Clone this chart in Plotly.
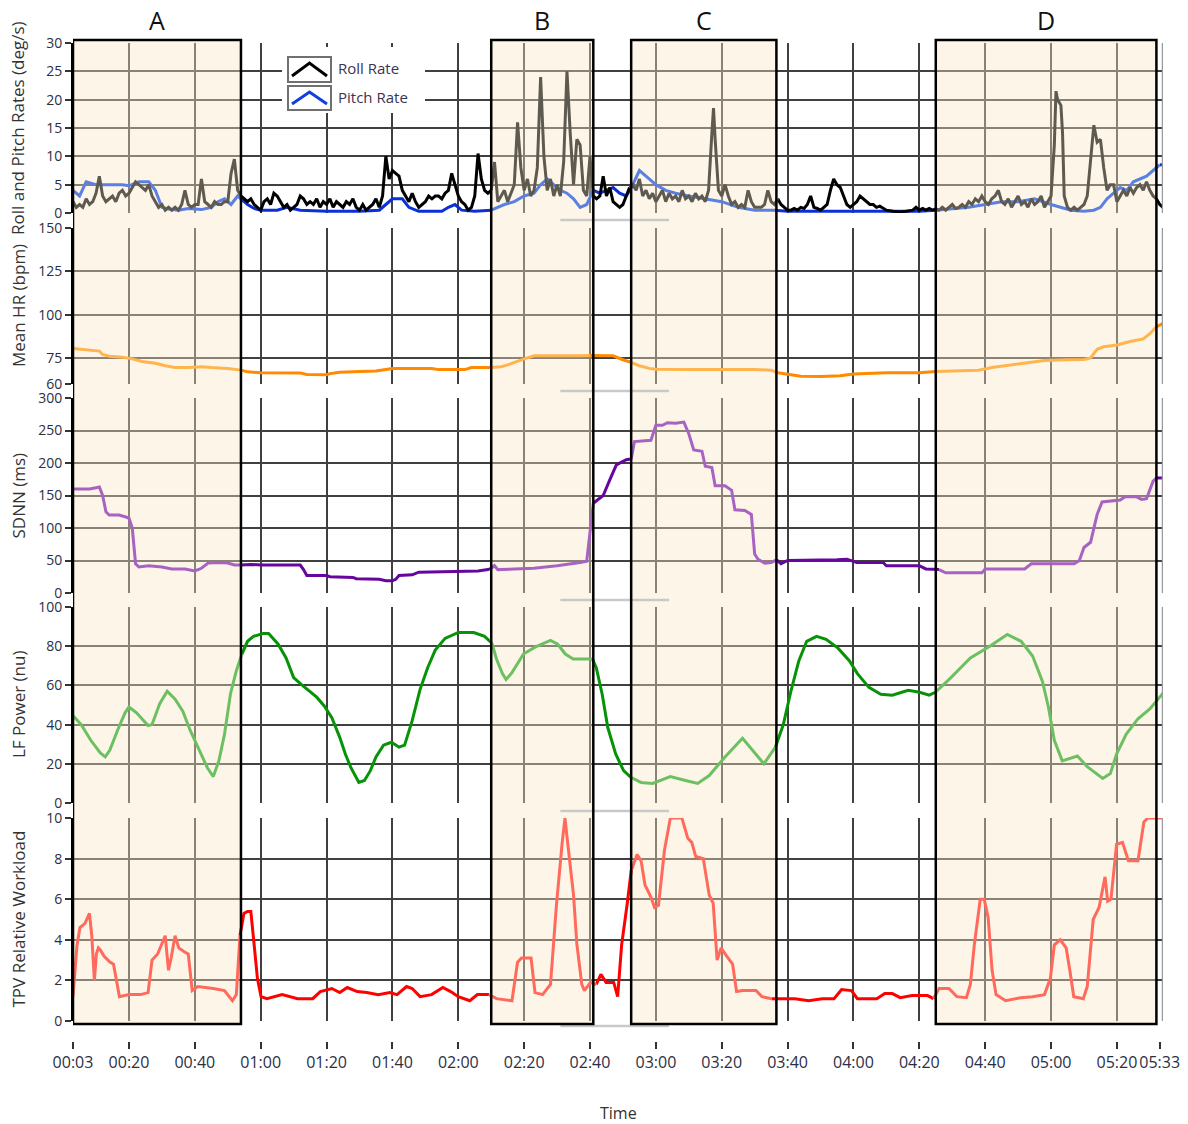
import plotly.graph_objects as go

W, H = 1188, 1124
ML, MR = 73, 25
X0, X1 = 3, 334

# ---------------- data ----------------
BOXES = [(3, 54), (130, 161), (172.5, 216.6), (265, 332)]
BOX_LABELS = ["A", "B", "C", "D"]

X_TICKVALS = [3, 20, 40, 60, 80, 100, 120, 140, 160, 180, 200, 220, 240, 260, 280, 300, 320, 333]
X_TICKTEXT = ["00:03", "00:20", "00:40", "01:00", "01:20", "01:40", "02:00", "02:20", "02:40",
              "03:00", "03:20", "03:40", "04:00", "04:20", "04:40", "05:00", "05:20", "05:33"]

ROLL_T = [3, 4, 5, 6, 7, 8, 9, 10, 11, 12, 13, 14, 15, 16, 17, 18, 19, 20, 21, 22, 23, 24, 25, 26, 27, 28,
          29, 30, 31, 32, 33, 34, 35, 36, 37, 38, 39, 40, 41, 42, 43, 44, 45, 46, 47, 48, 49, 50, 51, 52, 53, 54,
          55, 56, 57, 58, 59, 60, 61, 62, 63, 64, 65, 66, 67, 68, 69, 70, 71, 72, 73, 74, 75, 76, 77, 78, 79, 80,
          81, 82, 83, 84, 85, 86, 87, 88, 89, 90, 91, 92, 93, 94, 95, 96, 97, 98, 99, 100, 101, 102, 103, 104,
          105, 106, 107, 108, 109, 110, 111, 112, 113, 114, 115, 116, 117, 118, 119, 120, 121, 122, 123, 124,
          125, 126, 127, 128, 129, 130,
          131, 132, 133, 134, 135, 136, 137, 138, 139, 140, 141, 142, 143, 144, 145, 146, 147, 148, 149, 150,
          151, 152, 153, 154, 155, 156, 157, 158, 159, 160, 161,
          162, 163, 164, 165, 166, 167, 168, 169, 170, 171, 172, 173,
          174, 175, 176, 177, 178, 179, 180, 181, 182, 183, 184, 185, 186, 187, 188, 189, 190, 191, 192, 193,
          194, 195, 196, 197, 197.5, 198, 199, 200, 201, 202, 203, 204, 205, 206, 207, 208, 209, 210, 211, 212,
          213, 214, 215, 216, 217,
          218, 219, 220, 221, 222, 223, 224, 225, 226, 227, 228, 229, 230, 231, 232, 233, 234, 235, 236, 237,
          238, 239, 240, 241, 242, 243, 244, 245, 246, 247, 248, 249, 250, 252, 254, 256, 258, 259, 260, 261,
          262, 263, 264, 265,
          266, 267, 268, 269, 270, 271, 272, 273, 274, 275, 276, 277, 278, 279, 280, 281, 282, 283, 284, 285,
          286, 287, 288, 289, 290, 291, 292, 293, 294, 295, 296, 297, 298, 299, 300, 301, 301.5, 302, 303,
          303.5, 304, 305, 306, 307, 308, 309, 310, 311, 312, 313, 314, 315, 316, 317, 318, 319, 320, 321, 322,
          323, 324, 325, 326, 327, 328, 329, 330, 331, 332, 333, 334]
ROLL_V = [2, 1, 1.5, 1, 2.5, 1.5, 2, 3.5, 6.5, 3, 2, 2.5, 3, 2, 3.5, 4, 3, 3.5, 4.5, 5.5, 5, 4.5, 4, 5, 3, 2,
          1, 1.5, 0.5, 1, 0.5, 1, 0.5, 1.5, 4, 1.5, 1, 1.5, 1.5, 6, 2, 1.5, 1, 2, 1.5, 1.5, 2, 2, 7, 9.5, 4, 3,
          2.5, 2, 2.5, 1.5, 1, 0.5, 2, 2.5, 1.5, 3.5, 3, 2, 1, 1.5, 0.5, 1, 1.5, 3, 2.5, 1.5, 2, 1.5, 2.5, 1, 2, 1.5,
          2.5, 1, 2, 1.5, 1, 2, 1.5, 2.5, 1, 0.5, 1.5, 0.5, 1, 1.5, 2.5, 1, 3, 10, 6, 7.5, 7, 6.5, 4, 3,
          2, 3.5, 2, 1, 1.5, 2, 3, 2.5, 3, 3, 2.5, 3.5, 4, 7, 5, 3, 2, 1.5, 0.5, 1,
          3, 10.5, 6, 4, 3.5, 4,
          9, 2, 3, 4, 2, 3.5, 5, 16, 8, 4, 6, 3, 4, 8, 24, 10, 4, 6, 3, 5,
          3, 9, 25, 14, 5, 13, 12, 4, 3, 10, 3,
          2.5, 3, 6.5, 3, 4.5, 2, 1.5, 1, 1.5, 3, 4.5, 5,
          4, 6, 3, 4, 2.5, 3.5, 2, 3, 4, 2, 3.5, 2.5, 3, 2, 4, 2.5, 3, 2, 3.5, 2.5,
          3, 2, 4, 14, 18.5, 13, 4, 3, 5, 3, 1.5, 2, 1, 1.5, 1, 4, 2, 1, 1, 1,
          1.5, 4, 2, 1.5, 2.5,
          1.5, 1, 0.5, 0.5, 0.8, 0.5, 1, 0.8, 1.5, 3, 1, 0.8, 0.5, 1, 1.5, 4, 6, 5, 4.5, 3,
          1.5, 1, 1.5, 2, 3, 2.5, 2, 1.5, 1.5, 1, 1.2, 0.8, 0.5, 0.3, 0.2, 0.3, 0.5, 1, 0.5, 0.8,
          0.5, 0.8, 0.5, 0.7,
          0.5, 1, 0.5, 1, 1.5, 0.8, 1, 1.5, 1, 2, 1.5, 2.5, 2, 3, 2, 1.5, 2.5, 3, 4, 2,
          1.5, 2.5, 1, 2, 3, 1.5, 2, 1, 2.5, 1.5, 2, 3, 1, 2, 3, 12, 21.5, 20, 19,
          14, 3, 1, 0.5, 1, 0.5, 1, 1.5, 3, 10, 15.5, 12.5, 13, 8, 4, 5, 5, 2, 3, 4,
          3, 4.5, 3.5, 4.5, 5, 4, 5.5, 4, 3, 2.5, 1.5, 1]

PITCH_T = [3, 5, 7, 10, 14, 18, 20, 23, 26, 28, 30, 32, 35, 38, 42, 45, 47, 49, 51, 53, 54, 56, 58, 60, 65,
           68, 72, 80, 90, 96, 98, 100, 103, 105, 108, 115, 117, 119, 121, 125, 130, 132, 134, 137, 140, 143,
           145, 147, 149, 151, 153, 155, 157, 159, 161, 163, 165, 167, 169, 171, 173, 175, 177, 180, 183, 186,
           190, 195, 200, 205, 210, 216, 220, 240, 260, 265, 270, 275, 280, 285, 290, 295, 300, 303, 306, 310,
           313, 315, 317, 319, 321, 323, 325, 327, 329, 331, 333, 334]
PITCH_V = [4, 3, 5.5, 5, 5, 5, 4.8, 5.5, 5.5, 4, 1, 0.7, 0.5, 0.8, 0.6, 1, 2, 2.5, 1.5, 3, 2.5, 1.5, 0.8, 0.5,
           0.5, 1, 0.5, 0.3, 0.3, 0.5, 1.5, 2.5, 2.5, 1, 0.3, 0.3, 1, 1.5, 0.5, 0.3, 0.5, 1, 1.5, 2, 3, 3.5,
           5, 6, 5, 4, 3.5, 2.5, 1, 1.5, 4, 3.5, 4, 4.5, 3.5, 3, 5, 7.5, 6.5, 5, 4, 3.5,
           3, 2.5, 2, 1, 0.5, 0.5, 0.3, 0.3, 0.3, 0.5, 0.8, 1, 1.5, 2, 2, 2.5, 1.5, 1, 0.5, 0.3,
           0.5, 1, 2.5, 3.5, 4.5, 4, 5.5, 6, 6.5, 7.5, 8.5, 8.5]

HR_T = [3, 6, 9, 11, 12, 14, 18, 20, 21, 24, 28, 31, 34, 38, 42, 45, 50, 54, 56, 60, 66, 72, 74, 80, 81, 84,
        90, 95, 100, 106, 112, 114, 122, 124, 130, 133, 135, 137, 140, 143, 147, 152, 157, 160, 164, 167, 170,
        172.5, 175, 178, 180, 190, 200, 210, 215, 217, 220, 224, 230, 236, 240, 245, 250, 260, 265, 272, 278,
        282, 288, 293, 298, 305, 310, 312, 314, 316, 320, 324, 328, 330, 332, 334]
HR_V = [80.5, 80, 79.5, 79, 77, 76, 75.5, 75, 74.5, 73, 72, 70.5, 69.5, 69.5, 70, 69.5, 69, 68, 67, 66.5, 66.5,
        66.3, 65.5, 65.3, 66, 66.8, 67.2, 67.5, 69, 69.2, 69, 68.3, 68.3, 69.5, 69.5, 70, 71, 72.5, 74.5, 76.3,
        76.3, 76, 76.3, 76.5, 76.5, 76.3, 74, 72.5, 70.5, 69, 68.5, 68.3, 68.5, 68.3, 68, 66.5, 65.5, 64.5,
        64.3, 64.8, 65.8, 66.3, 66.5, 66.5, 67.2, 67.5, 68, 69.5, 71, 72.5, 73.5, 74, 74.2, 75, 80, 81.5, 82.5,
        84.5, 86, 89, 93, 95]

SDNN_T = [3, 8, 10, 11, 12, 13, 14, 17, 19, 20, 21, 22, 23, 26, 30, 33, 37, 40, 42, 44, 48, 50, 52, 54, 57,
          60, 72, 73, 74, 80, 81, 88, 89, 96, 98, 100, 101, 102, 106, 108, 115, 120, 126, 129, 130, 131, 132,
          138, 143, 150, 155, 157, 159, 160, 160.5, 161, 162, 164, 166, 168, 171, 172.5, 173.5, 178.5, 180, 182,
          183.5, 186, 188.5, 190, 191.5, 194, 195, 197, 198, 201, 203, 204, 207, 209, 210, 211, 213, 215, 216.7,
          218, 220, 230, 235, 238, 241, 249, 250, 260, 262, 266, 268, 279, 280, 292, 294, 307, 308.6, 310, 312,
          314, 315.5, 321, 322.5, 326, 327.5, 329, 331, 332, 334]
SDNN_V = [160, 160, 162, 163, 150, 125, 120, 120, 117, 115, 100, 45, 40, 42, 40, 37, 37, 34, 38, 46, 47, 46,
          43, 43, 44, 43, 43, 36, 27, 27, 25, 24, 22, 21, 19, 19, 21, 27, 28, 32, 33, 33, 34, 36, 38, 42, 36,
          37, 38, 42, 45, 47, 49, 95, 122, 138, 142, 150, 174, 197, 205, 206, 233, 235, 258, 258,
          262, 261, 263, 245, 220, 218, 195, 193, 165, 165, 158, 128, 127, 121, 60, 52, 46, 47, 51,
          45, 50, 50, 51, 52, 47, 47, 42, 42, 37, 36, 31, 31, 37, 37, 45, 45, 50, 70, 78,
          121, 140, 143, 148, 148, 144, 145, 172, 177, 177]

LF_T = [3, 5.5, 8.4, 11.3, 12.8, 14.2, 16.5, 18.8, 20, 22.3, 25.8, 27, 29.3, 31.6, 34, 36.3, 38.6, 40.9, 43.8,
        45.6, 47.3, 49, 50.8, 52.6, 54.3, 56, 57.8, 60.7, 62.4, 65.3, 67.7, 70, 72.3, 74.7, 77, 79.3, 81.6, 84,
        85.7, 87.4, 89.8, 91.5, 93.3, 95, 97.3, 99.7, 102, 103.7, 106, 108.4, 110.7, 113, 116, 120, 124.7, 128,
        130.2, 131.6, 133.4, 134.5, 136.3, 139.8, 143.3, 148, 150.2, 152.5, 154.9, 157.2, 160.7, 161.9, 163.7,
        165.4, 167.8, 170.2, 172.5, 175.5, 179, 184.4, 189, 192.7, 196.2, 201, 206.3, 209.2, 212.8, 216.3, 218.7,
        221, 223.4, 225.8, 228.8, 231.7, 235.3, 238.8, 241.2, 244.7, 248.3, 251.8, 256.6, 260.1, 263, 264.9,
        269.6, 275.5, 281.4, 286.7, 290.9, 294.4, 297.4, 299.2, 301, 303.4, 308, 311, 315.7, 318, 319.9, 322.8,
        326.4, 330, 334]
LF_V = [44.5, 40, 32, 25.5, 23.5, 27, 37, 46, 49, 46, 39.5, 40, 50.5, 57, 53, 47, 37, 28.5, 18, 13.5, 21.5, 35,
        55.5, 67.5, 76, 82.5, 85, 86.5, 86.5, 81, 74, 64, 60.5, 57, 54, 49.5, 43.5, 33.5, 25, 18, 10.5, 11.5,
        16.5, 23.5, 29.5, 31, 28.5, 29.5, 42, 58, 69, 78, 84, 87, 87, 85, 81.5, 73.5, 66, 63, 66.5, 76, 79.5,
        83, 81, 76, 73.5, 73.5, 73.5, 69, 55.5, 38.5, 25, 16.5, 13, 10.5, 10, 13.5, 11.5, 10, 14, 23.5, 33, 27,
        20, 28.5, 40, 57, 72.5, 82.5, 85, 83.5, 79, 72.5, 66, 59, 55.5, 55, 57.5, 56.5, 55, 56.5, 64, 74, 80,
        86, 82.5, 75, 62, 49, 32, 21.5, 24, 18.5, 12.5, 15, 25, 35, 43, 48, 56]

TPV_T = [3, 4.2, 5.1, 6.6, 8, 8.7, 9.5, 10.1, 10.7, 11.3, 12.4, 14.2, 15.3, 17.1, 20, 23.5, 25.8, 27, 28.7,
         29.9, 31, 32, 32.8, 34, 35.1, 36.9, 38, 39.2, 40.9, 45.6, 49, 51.4, 52.6, 53.7, 54.9, 56, 57, 57.8, 59,
         60.1, 61.9, 66.5, 71.2, 75.8, 78.1, 81.6, 84, 86.3, 89.3, 92.2, 95.7, 99.2, 101.4, 104.3, 106, 108.4,
         111.9, 115.3, 117.7, 120, 123.5, 125.8, 129.3, 131.6, 136.3, 138, 139.2, 142.1, 143.3, 145.6, 148,
         149.8, 151.5, 152.4, 153.2, 155, 156, 157.5, 158.3, 160.1, 161.9, 163.3, 164.9, 167.2, 168.4, 169.6,
         171.4, 172.5, 174.3, 175.5, 176.7, 178.5, 179.6, 180.8, 182.6, 184.4, 187.9, 189.7, 190.9, 192.1,
         194.4, 196.2, 197.4, 198.6, 199.8, 201.5, 203.3, 204.5, 206.3, 210.4, 212.2, 215.1, 218.7, 222.2,
         226.4, 230.5, 234.1, 236.4, 239.4, 241.2, 247.1, 249.5, 251.8, 254.2, 257.8, 262.5, 264.3, 266, 269,
         271.4, 274.3, 275.5, 276.7, 278.5, 279.7, 280.9, 282.1, 283.3, 286.2, 290.9, 294.4, 298, 299.8, 301,
         302.8, 304.6, 305.7, 306.9, 309.8, 311, 312.8, 314.6, 316.4, 317.2, 318.2, 319.9, 321.7, 323.5, 326.4,
         328.2, 329.4, 334]
TPV_V = [1.2, 3.7, 4.6, 4.8, 5.3, 4.2, 2, 3.3, 3.6, 3.5, 3.2, 2.9, 2.8, 1.2, 1.3, 1.3, 1.4, 3, 3.3, 3.8, 4.2,
         2.5, 3.1, 4.2, 3.6, 3.4, 3.3, 1.5, 1.7, 1.6, 1.5, 1, 1.3, 4.2, 5.3, 5.4, 5.4, 4.1, 2.1, 1.2, 1.1, 1.3,
         1.1, 1.1, 1.45, 1.6, 1.4, 1.65, 1.45, 1.4, 1.3, 1.4, 1.3, 1.7, 1.6, 1.2, 1.3, 1.65, 1.45, 1.2, 1,
         1.3, 1.3, 1.1, 1, 2.9, 3.1, 3.1, 1.4, 1.3, 1.8, 5.7, 8.7, 10, 8.8, 6.2, 3.8, 1.8, 1.5, 1.9, 1.8, 2.3,
         1.9, 1.9, 1.2, 3.75, 5.9, 7.4, 8.2, 7.9, 6.7, 6.1, 5.6, 5.7, 8.4, 10, 10, 9, 8.8, 8.1, 8, 6.2, 5.8,
         3, 3.6, 3.2, 2.8, 1.45, 1.5, 1.5, 1.2, 1.1, 1.1, 1.1, 1, 1.1, 1.1, 1.55, 1.5, 1.1, 1.1, 1.35, 1.35,
         1.15, 1.25, 1.25, 1.1, 1.6, 1.6, 1.2, 1.15, 1.8, 3.75, 6, 6, 5.1, 2.5, 1.3, 1, 1.15, 1.2, 1.3, 2.1,
         3.75, 4, 3.6, 2.5, 1.2, 1.1, 1.7, 5, 5.6, 7.1, 5.9, 6, 8.7, 8.8, 7.9, 7.9, 9.8, 10, 10]

# ---------------- layout helpers ----------------
PANEL_PX = [(43, 213), (228, 384), (398, 593), (607, 803), (818, 1021)]
YRANGES = [(0, 30), (60, 150), (0, 300), (0, 100), (0, 10)]
YTICKS = [[0, 5, 10, 15, 20, 25, 30], [60, 75, 100, 125, 150], [0, 50, 100, 150, 200, 250, 300],
          [0, 20, 40, 60, 80, 100], [0, 2, 4, 6, 8, 10]]
YTITLES = ["Roll and Pitch Rates (deg/s)", "Mean HR (bpm)", "SDNN (ms)", "LF Power (nu)",
           "TPV Relative Workload"]

FONT = "Open Sans"
TICK_COLOR = "#2b2f45"
GRID = "#404040"
CREAM = "#fdf6e8"
TINT = "rgba(250,232,198,0.4)"


def pyp(px):
    return 1 - px / H


def pxp(px):
    return (px - ML) / (W - ML - MR)


def in_box(x):
    return any(a <= x <= b for a, b in BOXES)


def split(ts, vs):
    parts = {True: ([], []), False: ([], [])}
    prev = None
    for i in range(len(ts) - 1):
        k = in_box((ts[i] + ts[i + 1]) / 2)
        X, Y = parts[k]
        if prev != k:
            if X:
                X.append(None)
                Y.append(None)
            X.append(ts[i])
            Y.append(vs[i])
        X.append(ts[i + 1])
        Y.append(vs[i + 1])
        prev = k
    return parts


SERIES = [
    [(PITCH_T, PITCH_V, "#0b30d8", "#5b80e2"), (ROLL_T, ROLL_V, "#000000", "#5f5a50")],
    [(HR_T, HR_V, "#ff8a00", "#ffb44d")],
    [(SDNN_T, SDNN_V, "#66069f", "#a862c2")],
    [(LF_T, LF_V, "#079307", "#6cc062")],
    [(TPV_T, TPV_V, "#ff0000", "#ff6a5c")],
]

fig = go.Figure()

for p, series in enumerate(SERIES):
    sfx = "" if p == 0 else str(p + 1)
    for ts, vs, dark, light in series:
        parts = split(ts, vs)
        for shaded, col in ((False, dark), (True, light)):
            X, Y = parts[shaded]
            fig.add_trace(go.Scatter(x=X, y=Y, mode="lines", line=dict(color=col, width=3),
                                     xaxis="x" + sfx, yaxis="y" + sfx, showlegend=False,
                                     hoverinfo="skip", connectgaps=False))

# invisible trace for bottom tick axis
fig.add_trace(go.Scatter(x=[X0], y=[0.5], mode="markers", marker=dict(opacity=0),
                         xaxis="x6", yaxis="y6", showlegend=False, hoverinfo="skip"))

layout = dict(width=W, height=H, margin=dict(l=ML, r=MR, t=0, b=0, autoexpand=False),
              paper_bgcolor="white", plot_bgcolor="white",
              font=dict(family=FONT, color=TICK_COLOR), showlegend=False)

shapes = []
annotations = []
for p in range(5):
    sfx = "" if p == 0 else str(p + 1)
    top, bot = PANEL_PX[p]
    layout["xaxis" + sfx] = dict(domain=[0, 1], anchor="y" + sfx, range=[X0, X1], automargin=False,
                                 tickvals=list(range(20, 321, 20)), showticklabels=False, ticks="",
                                 showgrid=True, gridcolor=GRID, gridwidth=2, zeroline=False,
                                 showline=False)
    layout["yaxis" + sfx] = dict(domain=[pyp(bot), pyp(top)], anchor="x" + sfx, range=list(YRANGES[p]),
                                 automargin=False,
                                 tickvals=YTICKS[p], showgrid=True, gridcolor=GRID, gridwidth=2,
                                 zeroline=False, showline=True, linecolor="black", linewidth=2,
                                 ticks="outside", ticklen=6, tickwidth=1.5, tickcolor="#333333",
                                 tickfont=dict(size=14, color=TICK_COLOR, family=FONT))
    # tint of shaded regions inside panel (above grid, below traces)
    for a, b in BOXES:
        shapes.append(dict(type="rect", xref="x" + sfx, yref="y" + sfx, x0=a, x1=b,
                           y0=YRANGES[p][0], y1=YRANGES[p][1], fillcolor=TINT, line=dict(width=0),
                           layer="between"))
    # right border
    shapes.append(dict(type="line", xref="x" + sfx, yref="y" + sfx, x0=X1 - 0.15, x1=X1 - 0.15,
                       y0=YRANGES[p][0], y1=YRANGES[p][1], line=dict(color="#9a9a9a", width=1.5),
                       layer="above"))
    annotations.append(dict(text=YTITLES[p], xref="paper", yref="paper", x=pxp(18),
                            y=pyp((top + bot) / 2), textangle=-90, showarrow=False,
                            xanchor="center", yanchor="middle",
                            font=dict(size=17, color="#333333", family=FONT)))

# cream in the gaps between panels
gaps = [(40, PANEL_PX[0][0])] + [(PANEL_PX[i][1], PANEL_PX[i + 1][0]) for i in range(4)] + \
       [(PANEL_PX[4][1], 1024)]
for a, b in BOXES:
    for g0, g1 in gaps:
        shapes.append(dict(type="rect", xref="x", yref="paper", x0=a, x1=b, y0=pyp(g1), y1=pyp(g0),
                           fillcolor=CREAM, line=dict(width=0), layer="below"))

# scrollbar remnants
for gy in [220, 391, 600, 811, 1026]:
    shapes.append(dict(type="line", xref="x", yref="paper", x0=151, x1=184, y0=pyp(gy), y1=pyp(gy),
                       line=dict(color="#c9c9c9", width=2.5), layer="above"))

# region boxes + labels
for (a, b), lab in zip(BOXES, BOX_LABELS):
    shapes.append(dict(type="rect", xref="x", yref="paper", x0=a, x1=b, y0=pyp(1024), y1=pyp(40),
                       line=dict(color="black", width=2.5), fillcolor="rgba(0,0,0,0)", layer="above"))
    annotations.append(dict(text=lab, xref="x", yref="paper", x=(a + b) / 2, y=pyp(20), showarrow=False,
                            xanchor="center", yanchor="middle",
                            font=dict(size=25, color="#111111", family=FONT)))

# legend (manual)
shapes.append(dict(type="rect", xref="paper", yref="paper", x0=pxp(282), x1=pxp(425), y0=pyp(113),
                   y1=pyp(47), fillcolor="white", line=dict(width=0), layer="above"))
for (t0, t1), col in (((57, 82), "black"), ((86, 110), "#1040e0")):
    shapes.append(dict(type="rect", xref="paper", yref="paper", x0=pxp(288), x1=pxp(331), y0=pyp(t1),
                       y1=pyp(t0), fillcolor="white", line=dict(color="#707070", width=2), layer="above"))
    path = "M %f,%f L %f,%f L %f,%f" % (pxp(292), pyp(t1 - 6), pxp(309.5), pyp(t0 + 6), pxp(327),
                                        pyp(t1 - 6))
    shapes.append(dict(type="path", xref="paper", yref="paper", path=path,
                       line=dict(color=col, width=3), layer="above"))
for txt, yy in (("Roll Rate", 68), ("Pitch Rate", 97)):
    annotations.append(dict(text=txt, xref="paper", yref="paper", x=pxp(336), y=pyp(yy), showarrow=False,
                            xanchor="left", yanchor="middle",
                            font=dict(size=15, color="#3b3350", family=FONT)))

# bottom time axis
layout["xaxis6"] = dict(domain=[0, 1], anchor="y6", range=[X0, X1], tickvals=X_TICKVALS, automargin=False,
                        ticktext=X_TICKTEXT, ticks="outside", ticklen=7, tickwidth=1.5, tickcolor="#333333",
                        showgrid=False, zeroline=False, showline=False, tickangle=0,
                        ticklabeloverflow="allow",
                        tickfont=dict(size=16, color=TICK_COLOR, family=FONT))
layout["yaxis6"] = dict(domain=[pyp(1041), pyp(1041) + 0.002], anchor="x6", range=[0, 1], visible=False,
                        automargin=False)
annotations.append(dict(text="Time", xref="paper", yref="paper", x=pxp(618), y=pyp(1113), showarrow=False,
                        xanchor="center", yanchor="middle", font=dict(size=16, color="#333333", family=FONT)))

layout["shapes"] = shapes
layout["annotations"] = annotations
fig.update_layout(**layout)

fig.write_html("out.html")
